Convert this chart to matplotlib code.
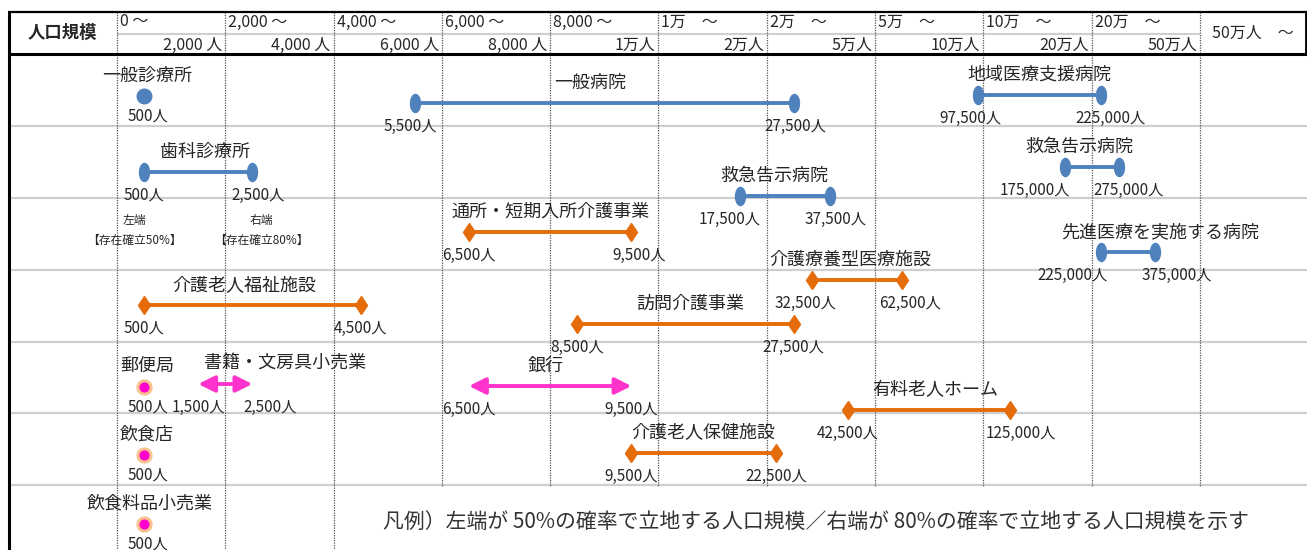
import matplotlib
matplotlib.use('Agg')
import matplotlib.pyplot as plt
import numpy as np
from matplotlib.path import Path
from matplotlib.transforms import Affine2D
from matplotlib.patches import Rectangle

plt.rcParams['font.family'] = ['Noto Sans CJK JP', 'DejaVu Sans']

# population bands used as columns of the table
bounds = [0, 2000, 4000, 6000, 8000, 10000, 20000, 50000, 100000, 200000, 500000]
head_from = ['0 ～', '2,000 ～', '4,000 ～', '6,000 ～', '8,000 ～',
             '1万　～', '2万　～', '5万　～', '10万　～', '20万　～']
head_to = ['2,000 人', '4,000 人', '6,000 人', '8,000 人', '1万人',
           '2万人', '5万人', '10万人', '20万人', '50万人']
last_head = '50万人　～'

# facilities: left end = 50% probability, right end = 80% probability
names = ['一般診療所', '一般病院', '地域医療支援病院', '歯科診療所', '救急告示病院',
         '救急告示病院', '先進医療を実施する病院',
         '通所・短期入所介護事業', '介護老人福祉施設', '介護療養型医療施設', '訪問介護事業',
         '介護老人保健施設', '有料老人ホーム',
         '郵便局', '書籍・文房具小売業', '銀行', '飲食店', '飲食料品小売業']
left = [500, 5500, 97500, 500, 17500, 175000, 225000,
        6500, 500, 32500, 8500, 9500, 42500,
        500, 1500, 6500, 500, 500]
right = [None, 27500, 225000, 2500, 37500, 275000, 375000,
         9500, 4500, 62500, 27500, 22500, 125000,
         None, 2500, 9500, None, None]
group = ['med'] * 7 + ['care'] * 6 + ['shop'] * 5

legend_text = '凡例）左端が 50%の確率で立地する人口規模／右端が 80%の確率で立地する人口規模を示す'

# layout (pixels): vertical lane of each item, nudge of its title and end labels
lane_y = [96, 103, 95, 172, 196, 167, 252,
          232, 305, 280, 324, 453, 410,
          387, 384, 386, 455, 524]
title_dx = [3, -14, 0, 7, -10, -12, 32,
            0, -8, -7, 5, 0, 6,
            3, 60, -5, 3, 6]
left_dx = [4, -4, -8, 0, -10, -30, -28,
           0, 0, -6, 0, 0, 0,
           4, 0, 0, 4, 4]
right_dx = [0, 2, 10, 6, 6, 10, 22,
            8, 0, 8, 0, 0, 10,
            0, 18, 0, 0, 0]
row_lines = [126, 198, 270, 342, 413, 485]

W, H = 1307, 550
X0, COL = 117, 108.3
idx = np.arange(len(bounds))


def fwd(v):
    v = np.asarray(v, float)
    return np.where(v < 0, v / 2000.0,
                    np.where(v > 5e5, 10 + (v - 5e5) / 3e5, np.interp(v, bounds, idx)))


def inv(u):
    u = np.asarray(u, float)
    return np.where(u < 0, u * 2000.0,
                    np.where(u > 10, 5e5 + (u - 10) * 3e5, np.interp(u, idx, bounds)))


def px_x(p):
    return float(inv((p - X0) / COL))


fig = plt.figure(figsize=(W / 100, H / 100), dpi=100)
ax = fig.add_axes([0, 0, 1, 1])
ax.set_xscale('function', functions=(fwd, inv))
ax.set_xlim(px_x(0), px_x(W))
ax.set_ylim(H, 0)
ax.axis('off')

txt = '#262626'


def label(x, y, s, dx=0, dy=0, **kw):
    kw.setdefault('ha', 'center')
    kw.setdefault('va', 'center')
    kw.setdefault('color', txt)
    ax.annotate(s, (x, y), xytext=(dx, dy), textcoords='offset pixels', zorder=6, **kw)


# table frame
for y in row_lines:
    ax.hlines(y, px_x(8), px_x(W), color='#cfcfcf', lw=1.6, zorder=1)
ax.hlines(33.5, bounds[0], bounds[-1], color='#cfcfcf', lw=1.5, zorder=1)
ax.vlines(bounds, 12, H, colors='#555555', linestyles=(0, (1, 1)), lw=0.9, zorder=2)
ax.hlines(12, px_x(8), px_x(W), color='black', lw=1.6, zorder=3)
ax.hlines(54, px_x(8), px_x(W), color='black', lw=2.2, zorder=3)
ax.vlines(px_x(8.5), 12, H, color='black', lw=2.2, zorder=3)
ax.vlines(px_x(1305.5), 12, 54, color='black', lw=2, zorder=3)

# header
label(px_x(62), 33, '人口規模', fontsize=12.5, fontweight='bold')
for i in range(10):
    label(bounds[i], 22, head_from[i], dx=3, ha='left', fontsize=11.5)
    label(bounds[i + 1], 45, head_to[i], dx=-3, ha='right', fontsize=11.5)
label(px_x(1253), 33, last_head, fontsize=11.5)

blue, orange = '#4F81BD', '#E46C0A'
pink, pink_dot, ring = '#FF33CC', '#FF00CC', '#FAC090'
ellipse = Path.unit_circle().transformed(Affine2D().scale(0.55, 1.0))

for i, name in enumerate(names):
    a, b, g, y = left[i], right[i], group[i], lane_y[i]
    if b is None:
        if g == 'med':
            ax.plot([a], [y], 'o', color=blue, ms=10.5, zorder=5)
        else:
            ax.plot([a], [y], 'o', mfc=pink_dot, mec=ring, ms=9.5, mew=2.2, zorder=5)
        mid = a
    else:
        if g == 'med':
            ax.plot([a, b], [y, y], color=blue, lw=2.8, marker=ellipse, ms=13,
                    solid_capstyle='butt', zorder=5)
        elif g == 'care':
            ax.plot([a, b], [y, y], color=orange, lw=2.8, marker='d', ms=9.5,
                    solid_capstyle='butt', zorder=5)
        else:
            ax.annotate('', xy=(b, y), xytext=(a, y), zorder=5,
                        arrowprops=dict(arrowstyle='<|-|>,head_length=0.7,head_width=0.35',
                                        color=pink, lw=2.8, shrinkA=0, shrinkB=0,
                                        mutation_scale=14))
        mid = float(inv((fwd(a) + fwd(b)) / 2))
        label(b, y, f'{b:,}人', dx=right_dx[i], dy=-23, fontsize=11)
    label(a, y, f'{a:,}人', dx=left_dx[i], dy=-23 if b else -20, fontsize=11)
    label(mid, y, name, dx=title_dx[i], dy=20, fontsize=13)

# notes under the dental clinic range
k = names.index('歯科診療所')
for v, dx, top, bottom in [(left[k], -10, '左端', '【存在確立50%】'),
                           (right[k], 9, '右端', '【存在確立80%】')]:
    label(v, lane_y[k], top, dx=dx, dy=-48, fontsize=8.5)
    label(v, lane_y[k], bottom, dx=dx, dy=-68, fontsize=8.5)

# legend box
ax.add_patch(Rectangle((px_x(362), 486.5), px_x(W) - px_x(362), 70,
                       facecolor='white', edgecolor='none', zorder=4))
label(px_x(383), 522, legend_text, ha='left', fontsize=15, color='#333333')

fig.savefig('out.png', dpi=100)
